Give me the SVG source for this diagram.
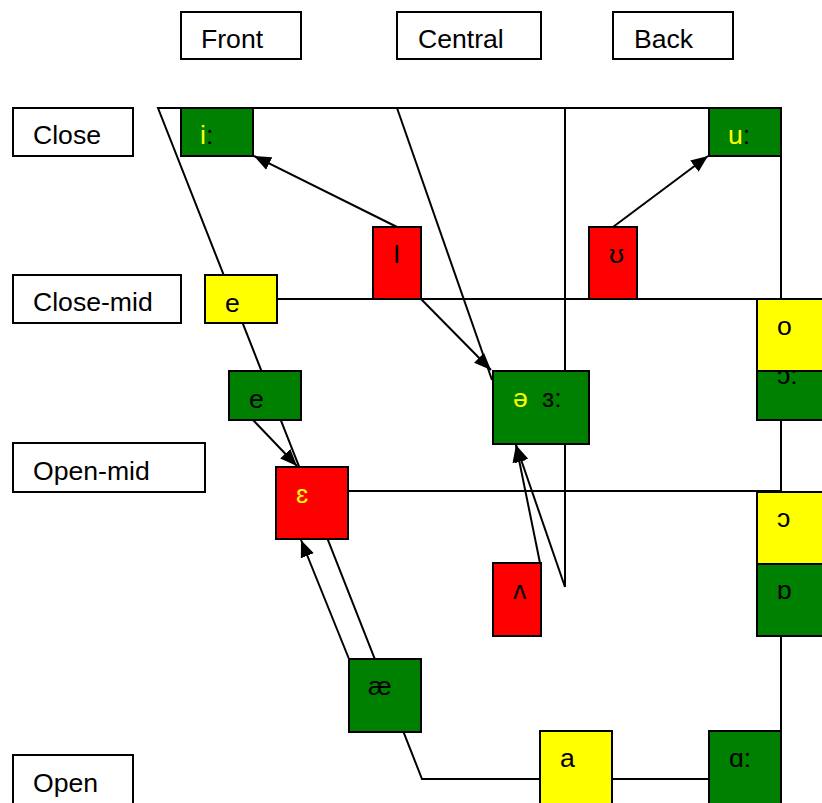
<svg xmlns="http://www.w3.org/2000/svg" width="822" height="803" viewBox="0 0 822 803">
<style>
text{font-family:"Liberation Sans","DejaVu Sans",Arial,sans-serif;font-size:26.6px;fill:#000}
.lab{fill:#fff;stroke:#000;stroke-width:2}
.g{fill:#008000;stroke:#000;stroke-width:2}
.r{fill:#ff0000;stroke:#000;stroke-width:2}
.y{fill:#ffff00;stroke:#000;stroke-width:2}
.ln{fill:none;stroke:#000;stroke-width:2}
.ar{fill:none;stroke:#000;stroke-width:2;marker-end:url(#ah)}
.yt{fill:#ffff00}
</style>
<defs>
<marker id="ah" markerUnits="userSpaceOnUse" markerWidth="17" markerHeight="14" viewBox="0 0 17 14" refX="17" refY="7" orient="auto">
<path d="M0,0 L17,7 L0,14 z" fill="#000"/>
</marker>
</defs>
<g id="headers">
<g id="h-front"><rect class="lab" x="181" y="12" width="120" height="47"/><text x="201" y="48">Front</text></g>
<g id="h-central"><rect class="lab" x="397" y="12" width="144" height="47"/><text x="418" y="48">Central</text></g>
<g id="h-back"><rect class="lab" x="613" y="12" width="120" height="47"/><text x="634" y="48">Back</text></g>
<g id="h-close"><rect class="lab" x="13" y="108" width="120" height="48"/><text x="33" y="144">Close</text></g>
<g id="h-closemid"><rect class="lab" x="13" y="275" width="168" height="48"/><text x="33" y="311">Close-mid</text></g>
<g id="h-openmid"><rect class="lab" x="13" y="443" width="192" height="49"/><text x="33" y="480">Open-mid</text></g>
<g id="h-open"><rect class="lab" x="13" y="755" width="120" height="50"/><text x="33" y="792">Open</text></g>
</g>
<g id="connectors">
<path class="ln" d="M158,108 H781 V779 H422 Z"/>
<line class="ln" x1="232" y1="299" x2="781" y2="299"/>
<line class="ln" x1="307" y1="491" x2="781" y2="491"/>
<line class="ln" x1="565" y1="108" x2="565" y2="587"/>
<line class="ln" x1="397" y1="108" x2="492" y2="380"/>
<line class="ar" x1="397" y1="227" x2="254" y2="156"/>
<line class="ar" x1="613" y1="227" x2="708" y2="156"/>
<line class="ar" x1="421" y1="299" x2="491" y2="370"/>
<line class="ar" x1="253" y1="420" x2="297" y2="466"/>
<line class="ar" x1="349" y1="659" x2="301" y2="540"/>
<line class="ar" x1="565" y1="587" x2="516" y2="445"/>
<line class="ar" x1="540" y1="563" x2="516" y2="445"/>
</g>
<g id="n-i"><rect class="g" x="181" y="108" width="72" height="48"/><text x="200" y="144"><tspan class="yt">i</tspan>:</text></g>
<g id="n-u"><rect class="g" x="709" y="108" width="72" height="48"/><text x="728" y="144"><tspan class="yt">u</tspan>:</text></g>
<g id="n-I"><rect class="r" x="373" y="227" width="48" height="72"/><text x="393" y="263">I</text></g>
<g id="n-U"><rect class="r" x="589" y="227" width="48" height="72"/><text x="609" y="263">ʊ</text></g>
<g id="n-e1"><rect class="y" x="205" y="275" width="72" height="48"/><text x="225" y="312">e</text></g>
<g id="n-e2"><rect class="g" x="229" y="371" width="72" height="49"/><text x="249" y="408">e</text></g>
<g id="n-eps"><rect class="r" x="276" y="467" width="72" height="72"/><text x="296" y="503" class="yt">ɛ</text></g>
<g id="n-schwa"><rect class="g" x="493" y="371" width="96" height="73"/><text x="513" y="407"><tspan class="yt">ə</tspan><tspan x="542">ɜ:</tspan></text></g>
<g id="n-opn"><rect class="g" x="757" y="348" width="72" height="72"/><text x="777" y="384">ɔ:</text></g>
<g id="n-o"><rect class="y" x="757" y="299" width="72" height="72"/><text x="777" y="335">o</text></g>
<g id="n-open-o"><rect class="y" x="757" y="492" width="72" height="72"/><text x="777" y="527">ɔ</text></g>
<g id="n-turneda"><rect class="g" x="757" y="564" width="72" height="72"/><text x="777" y="599">ɒ</text></g>
<g id="n-wedge"><rect class="r" x="493" y="563" width="48" height="73"/><text x="513" y="599">ʌ</text></g>
<g id="n-ae"><rect class="g" x="349" y="659" width="72" height="73"/><text x="368" y="695">æ</text></g>
<g id="n-a"><rect class="y" x="540" y="731" width="72" height="74"/><text x="560" y="767">a</text></g>
<g id="n-alpha"><rect class="g" x="709" y="731" width="72" height="74"/><text x="729" y="767">ɑ:</text></g>
</svg>
